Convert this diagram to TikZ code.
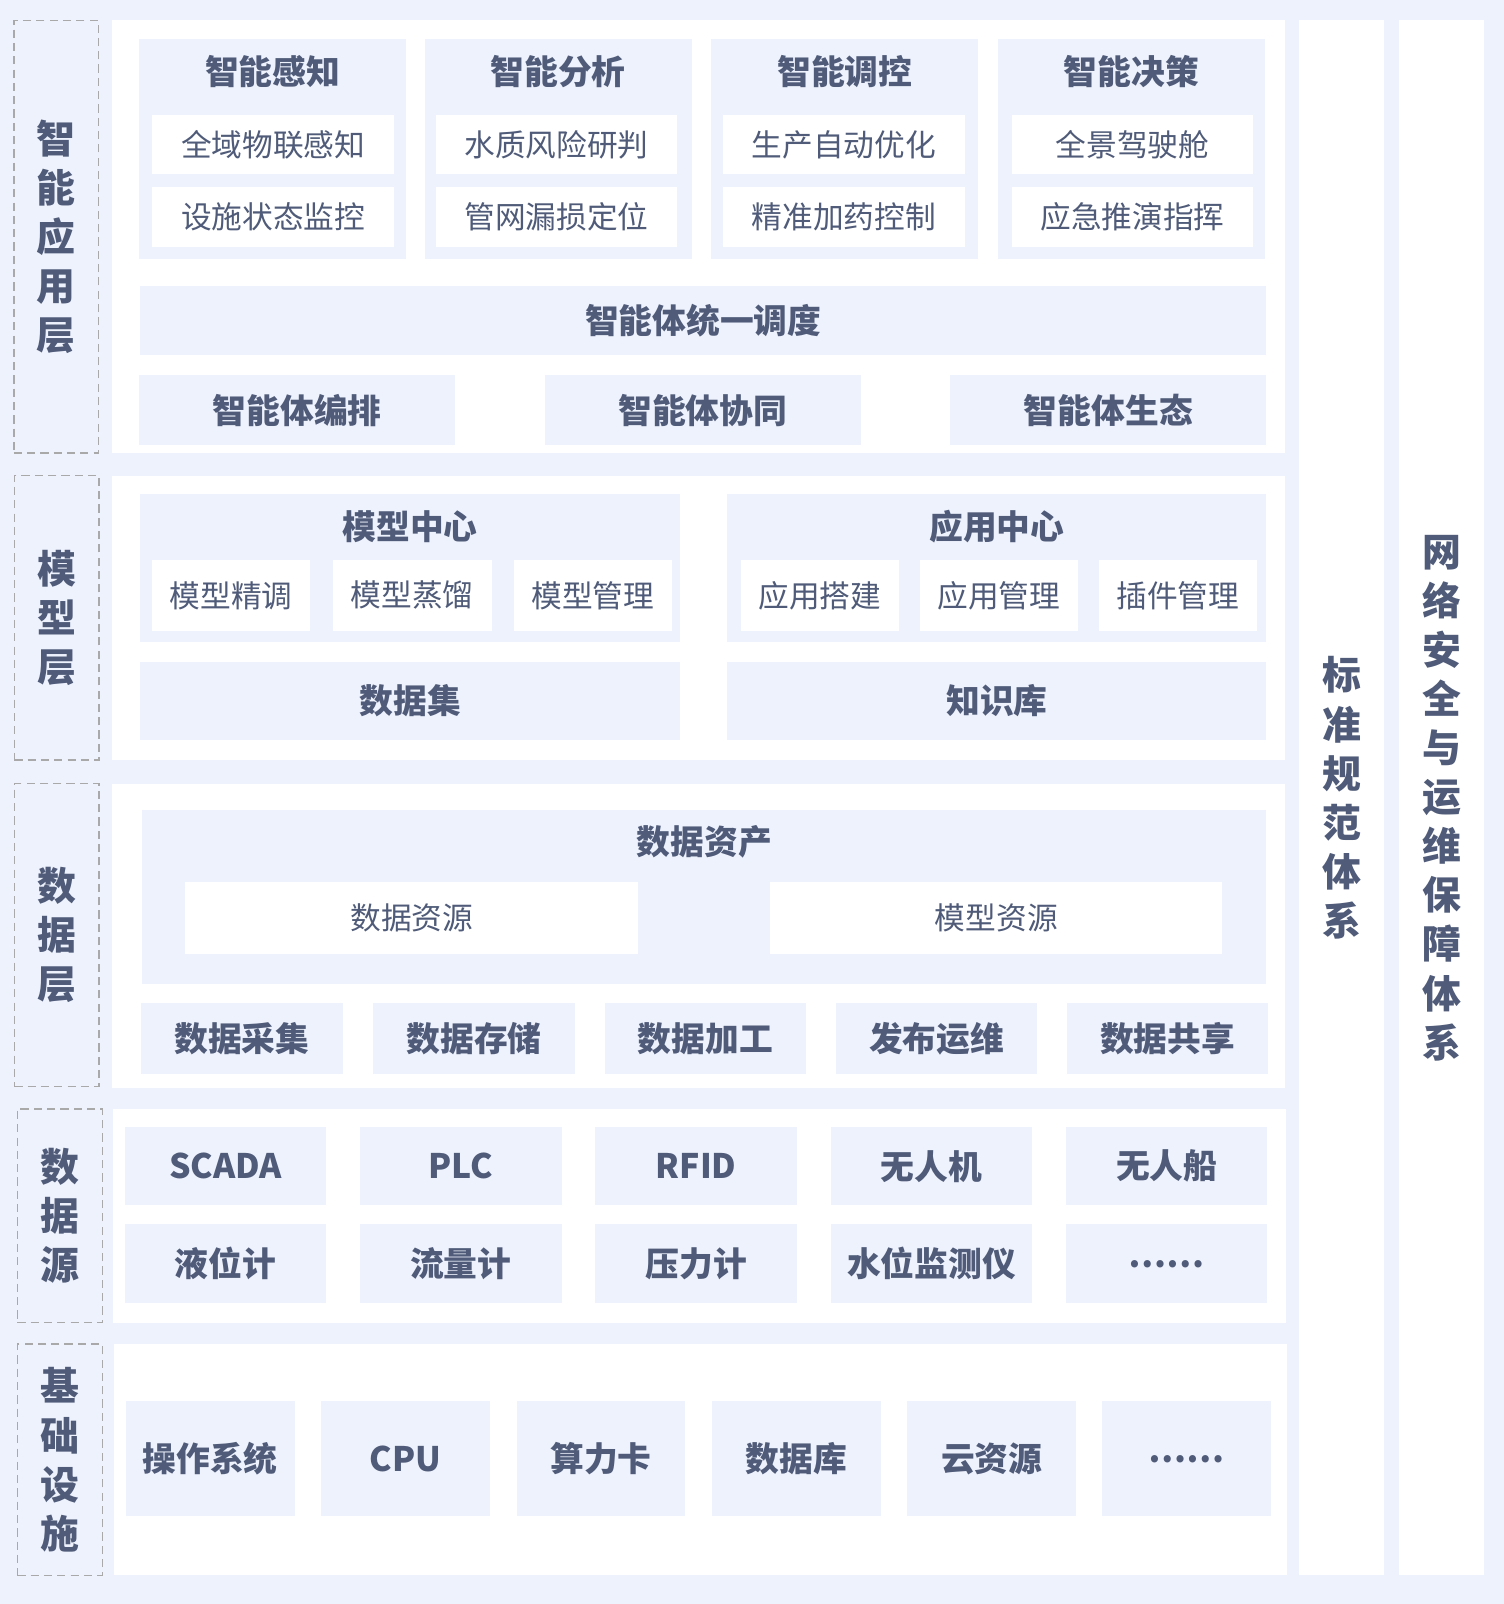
\documentclass[tikz,border=0pt]{standalone}
\usepackage{fontspec}
\setmainfont{Noto Sans CJK SC}
\usetikzlibrary{positioning}
\definecolor{bgblue}{HTML}{EEF2FD}
\definecolor{ink}{HTML}{4F5B78}
\definecolor{dashgray}{HTML}{A9A9A9}
\newcommand{\headfont}{\fontsize{33}{40}\selectfont\bfseries}
\newcommand{\itemfont}{\fontsize{30}{36}\selectfont}
\newcommand{\tagfont}{\fontsize{38}{48}\selectfont\bfseries}
\begin{document}
\begin{tikzpicture}[x=1pt,y=-1pt,
    every node/.style={text=ink,inner sep=0pt,outer sep=0pt},
    panel/.style={fill=white,minimum width=1147pt},
    tagbox/.style={draw=dashgray,fill=bgblue,line width=1.5pt,
      dash pattern=on 8pt off 5pt,minimum width=83pt,align=center,font=\tagfont},
    pillar/.style={fill=white,minimum width=83pt,minimum height=1520pt,
      align=center,font=\tagfont},
    grp/.style={fill=bgblue},
    cell/.style={fill=bgblue,font=\headfont},
    item/.style={fill=white,font=\itemfont},
    head/.style={font=\headfont}]
  \fill[bgblue] (0,0) rectangle (1470,1568);
  \useasboundingbox (0,0) rectangle (1470,1568);
  % layer frames
  \node[panel,minimum height=423pt] (p1) at (682.5,231.5) {};
  \node[panel,minimum height=278pt] (p2) at (682.5,604) {};
  \node[panel,minimum height=298pt] (p3) at (683,915) {};
  \node[panel,minimum height=209pt] (p4) at (684,1188.5) {};
  \node[panel,minimum height=226pt] (p5) at (685,1427) {};
  % layer tags
  \node[tagbox,minimum height=423pt] (t1) at (55,231.5) {智\\能\\应\\用\\层};
  \node[tagbox,minimum height=278pt] (t2) at (55.5,604) {模\\型\\层};
  \node[tagbox,minimum height=296pt] (t3) at (55.5,914) {数\\据\\层};
  \node[tagbox,minimum height=209pt] (t4) at (58.5,1188.5) {数\\据\\源};
  \node[tagbox,minimum height=226pt] (t5) at (58.5,1427) {基\\础\\设\\施};
  % side pillars
  \node[pillar] (std) at (1311.5,780) {标\\准\\规\\范\\体\\系};
  \node[pillar] (sec) at (1409.5,780) {网\\络\\安\\全\\与\\运\\维\\保\\障\\体\\系};
  % intelligent application layer
  \node[grp,minimum width=261pt,minimum height=215pt] (perc) at (266.5,145.5) {};
  \node[grp,minimum width=261pt,minimum height=215pt] (anal) at (545.5,145.5) {};
  \node[grp,minimum width=261pt,minimum height=215pt] (ctrl) at (826,145.5) {};
  \node[grp,minimum width=261pt,minimum height=215pt] (deci) at (1106,145.5) {};
  \node[head] (percT) at (266.5,70) {智能感知};
  \node[head] (analT) at (545.5,70) {智能分析};
  \node[head] (ctrlT) at (826,70) {智能调控};
  \node[head] (deciT) at (1106,70) {智能决策};
  \node[item,minimum width=236pt,minimum height=58pt] (perc1) at (267,141.5) {全域物联感知};
  \node[item,minimum width=236pt,minimum height=58pt] (perc2) at (267,212) {设施状态监控};
  \node[item,minimum width=236pt,minimum height=58pt] (anal1) at (544,141.5) {水质风险研判};
  \node[item,minimum width=236pt,minimum height=58pt] (anal2) at (544,212) {管网漏损定位};
  \node[item,minimum width=236pt,minimum height=58pt] (ctrl1) at (825,141.5) {生产自动优化};
  \node[item,minimum width=236pt,minimum height=58pt] (ctrl2) at (825,212) {精准加药控制};
  \node[item,minimum width=236pt,minimum height=58pt] (deci1) at (1107,141.5) {全景驾驶舱};
  \node[item,minimum width=236pt,minimum height=58pt] (deci2) at (1107,212) {应急推演指挥};
  \node[cell,minimum width=1101pt,minimum height=67pt] (sched) at (687.5,313.5) {智能体统一调度};
  \node[cell,minimum width=309pt,minimum height=68pt] (orch) at (290.5,401) {智能体编排};
  \node[cell,minimum width=309pt,minimum height=68pt] (coop) at (687,401) {智能体协同};
  \node[cell,minimum width=309pt,minimum height=68pt] (eco) at (1083.5,401) {智能体生态};
  % model layer
  \node[grp,minimum width=528pt,minimum height=145pt] (mc) at (401,555.5) {};
  \node[grp,minimum width=527pt,minimum height=145pt] (ac) at (974.5,555.5) {};
  \node[head] (mcT) at (401,515) {模型中心};
  \node[head] (acT) at (974.5,515) {应用中心};
  \node[item,minimum width=155pt,minimum height=70pt] (mc1) at (226,582) {模型精调};
  \node[item,minimum width=155pt,minimum height=70pt] (mc2) at (403,582) {模型蒸馏};
  \node[item,minimum width=155pt,minimum height=70pt] (mc3) at (579.5,582) {模型管理};
  \node[item,minimum width=155pt,minimum height=70pt] (ac1) at (801.5,582) {应用搭建};
  \node[item,minimum width=155pt,minimum height=70pt] (ac2) at (976.5,582) {应用管理};
  \node[item,minimum width=155pt,minimum height=70pt] (ac3) at (1151.5,582) {插件管理};
  \node[cell,minimum width=528pt,minimum height=76pt] (dset) at (401,685) {数据集};
  \node[cell,minimum width=527pt,minimum height=76pt] (kb) at (974.5,685) {知识库};
  % data layer
  \node[grp,minimum width=1099pt,minimum height=170pt] (asset) at (688.5,877) {};
  \node[head] (assetT) at (688.5,823) {数据资产};
  \node[item,minimum width=443pt,minimum height=71pt] (dres) at (402.5,897.5) {数据资源};
  \node[item,minimum width=442pt,minimum height=71pt] (mres) at (974,897.5) {模型资源};
  \node[cell,minimum width=197pt,minimum height=70pt] (coll) at (236.5,1015) {数据采集};
  \node[cell,minimum width=197pt,minimum height=70pt] (stor) at (463.5,1015) {数据存储};
  \node[cell,minimum width=197pt,minimum height=70pt] (proc) at (689.5,1015) {数据加工};
  \node[cell,minimum width=197pt,minimum height=70pt] (pub) at (915.5,1015) {发布运维};
  \node[cell,minimum width=197pt,minimum height=70pt] (share) at (1141.5,1015) {数据共享};
  % data sources
  \node[cell,minimum width=197pt,minimum height=76pt] (scada) at (220.5,1140) {SCADA};
  \node[cell,minimum width=197pt,minimum height=76pt] (plc) at (450.5,1140) {PLC};
  \node[cell,minimum width=197pt,minimum height=76pt] (rfid) at (680.5,1140) {RFID};
  \node[cell,minimum width=197pt,minimum height=76pt] (uav) at (910.5,1140) {无人机};
  \node[cell,minimum width=197pt,minimum height=76pt] (usv) at (1140.5,1140) {无人船};
  \node[cell,minimum width=197pt,minimum height=77pt] (lvl) at (220.5,1235.5) {液位计};
  \node[cell,minimum width=197pt,minimum height=77pt] (flow) at (450.5,1235.5) {流量计};
  \node[cell,minimum width=197pt,minimum height=77pt] (pres) at (680.5,1235.5) {压力计};
  \node[cell,minimum width=197pt,minimum height=77pt] (wlm) at (910.5,1235.5) {水位监测仪};
  \node[cell,minimum width=197pt,minimum height=77pt] (srcmore) at (1140.5,1235.5) {……};
  % infrastructure
  \node[cell,minimum width=165pt,minimum height=112pt] (os) at (205.5,1426) {操作系统};
  \node[cell,minimum width=165pt,minimum height=112pt] (cpu) at (396.5,1426) {CPU};
  \node[cell,minimum width=165pt,minimum height=112pt] (card) at (587.5,1426) {算力卡};
  \node[cell,minimum width=165pt,minimum height=112pt] (db) at (778.5,1426) {数据库};
  \node[cell,minimum width=165pt,minimum height=112pt] (cloud) at (969.5,1426) {云资源};
  \node[cell,minimum width=165pt,minimum height=112pt] (infmore) at (1159.5,1426) {……};
\end{tikzpicture}
\end{document}
